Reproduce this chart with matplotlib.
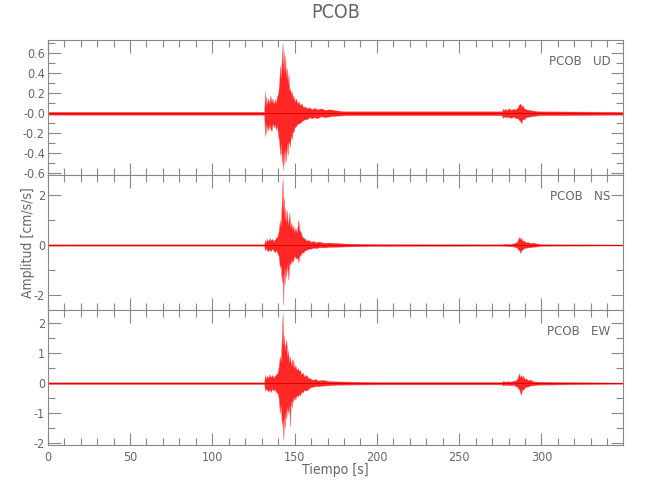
import matplotlib
matplotlib.use("Agg")
import matplotlib.pyplot as plt
from matplotlib.ticker import MultipleLocator, FixedLocator

plt.rcParams['axes.unicode_minus'] = False
plt.rcParams['font.family'] = ['DejaVu Sans']
plt.rcParams['font.stretch'] = 'condensed'

station = "PCOB"
components = ["UD", "NS", "EW"]
title = "PCOB"
xlabel = "Tiempo [s]"
ylabel = "Amplitud [cm/s/s]"

# envelope knots: time [s], upper, lower
ud_t = [0, 131.5, 132, 132.4, 132.8, 133.3, 134, 134.6, 135.2, 136,
        136.6, 137.3, 138, 138.6, 139.3, 140, 140.6, 141.2, 141.7, 142.2,
        142.7, 143.0, 143.4, 143.8, 144.3, 144.8, 145.3, 145.8, 146.3, 146.8,
        147.2, 147.7, 148.3, 148.8, 149.3, 150, 150.8, 151.6, 152.4, 153.3,
        154.2, 155.2, 156.2, 157.5, 159, 160.5, 162, 164, 166, 168.5,
        171.5, 175, 180, 276, 276.4, 277, 278, 279, 280, 281.5,
        283, 284.5, 285.5, 286.5, 287.2, 287.8, 288.5, 289.5, 290.5, 292,
        294, 298, 350]
ud_hi = [.015, .015, .22, .08, .17, .10, .15, .09, .18, .11,
         .15, .09, .14, .10, .17, .20, .30, .48, .35, .55,
         .70, .45, .62, .40, .58, .36, .45, .30, .40, .23,
         .25, .20, .22, .15, .18, .12, .15, .10, .12, .08,
         .10, .06, .07, .05, .06, .04, .055, .04, .05, .035,
         .04, .03, .02, .02, .05, .03, .045, .03, .05, .035,
         .045, .04, .06, .09, .10, .07, .08, .05, .04, .035,
         .03, .02, .015]
ud_lo = [-.015, -.015, -.23, -.10, -.20, -.12, -.17, -.11, -.15, -.18,
         -.10, -.14, -.11, -.16, -.13, -.22, -.28, -.42, -.30, -.50,
         -.40, -.57, -.38, -.52, -.35, -.48, -.30, -.42, -.28, -.30,
         -.34, -.22, -.26, -.18, -.19, -.14, -.13, -.11, -.10, -.10,
         -.08, -.07, -.06, -.06, -.04, -.05, -.04, -.05, -.03, -.04,
         -.03, -.025, -.02, -.02, -.05, -.03, -.04, -.035, -.04, -.045,
         -.035, -.05, -.05, -.07, -.08, -.10, -.06, -.06, -.04, -.035,
         -.03, -.02, -.015]

ns_t = [0, 131.5, 132, 132.6, 133.2, 134, 134.8, 135.6, 136.4, 137.2,
        138, 138.8, 139.6, 140.3, 141, 141.6, 142.2, 142.7, 143.1, 143.5,
        143.9, 144.4, 144.9, 145.4, 145.8, 146.2, 146.8, 147.4, 148, 148.6,
        149.2, 149.8, 150.5, 151.2, 151.8, 152.3, 152.9, 153.6, 154.4, 155.3,
        156.2, 157.2, 158.5, 160, 161.5, 163, 165, 167.5, 171, 176,
        180, 200, 276, 278, 281, 283, 285, 286, 286.6, 287.2,
        287.8, 288.6, 289.5, 290.5, 291.5, 293, 295, 297, 300, 305,
        350]
ns_hi = [.03, .03, .20, .12, .25, .15, .28, .18, .25, .15,
         .22, .30, .35, .55, 1.0, .7, 1.8, 2.67, 1.4, 1.9,
         1.0, 1.5, .9, 1.4, .8, .9, 1.3, .7, .9, .6,
         .8, .5, .7, .5, .75, 1.0, .6, .55, .35, .3,
         .25, .18, .2, .13, .16, .11, .14, .09, .1, .08,
         .06, .04, .03, .05, .04, .07, .12, .25, .33, .22,
         .28, .15, .18, .1, .13, .08, .1, .06, .04, .03,
         .02]
ns_lo = [-.03, -.03, -.22, -.14, -.20, -.25, -.18, -.25, -.15, -.22,
         -.30, -.20, -.35, -.45, -.9, -.8, -1.5, -1.2, -2.4, -1.0,
         -1.6, -.9, -1.3, -.8, -1.0, -1.4, -.7, -.8, -.6, -.7,
         -.6, -.45, -.5, -.55, -.5, -.7, -.45, -.4, -.3, -.3,
         -.22, -.2, -.15, -.15, -.11, -.13, -.09, -.1, -.08, -.07,
         -.06, -.04, -.03, -.04, -.05, -.06, -.1, -.2, -.22, -.33,
         -.2, -.18, -.12, -.12, -.09, -.1, -.07, -.06, -.04, -.03,
         -.02]

ew_t = [0, 131.5, 132, 132.6, 133.2, 134, 134.8, 135.6, 136.4, 137.2,
        138, 138.8, 139.6, 140.3, 141, 141.6, 142.2, 142.7, 143.2, 143.6,
        144, 144.5, 145, 145.5, 146, 146.6, 147.2, 147.7, 148.3, 148.8,
        149.2, 149.8, 150.5, 151.2, 152, 152.7, 153.3, 154, 155, 156,
        157, 158.3, 159.5, 161, 162.5, 164.5, 167, 171, 176, 200,
        276, 276.6, 278, 279.5, 281, 283, 284.5, 285.5, 286.3, 287,
        287.6, 288.3, 289, 289.8, 290.6, 291.6, 293, 295, 298, 350]
ew_hi = [.03, .03, .28, .15, .25, .18, .30, .2, .28, .18,
         .25, .3, .35, .55, .9, .7, 1.5, 2.33, 1.3, 1.6,
         1.1, 1.3, 1.45, .9, 1.1, .7, .9, .6, .8, .55,
         .8, .5, .6, .45, .5, .4, .45, .3, .35, .22,
         .28, .18, .16, .11, .14, .09, .11, .07, .06, .04,
         .04, .08, .05, .07, .05, .08, .1, .18, .33, .2,
         .28, .18, .25, .12, .17, .1, .12, .06, .05, .02]
ew_lo = [-.03, -.03, -.25, -.18, -.22, -.28, -.2, -.3, -.18, -.25,
         -.2, -.3, -.33, -.5, -1.0, -.7, -1.4, -1.2, -1.9, -1.1,
         -1.5, -.9, -1.2, -.8, -1.0, -.7, -1.45, -.6, -.8, -.5,
         -.6, -.45, -.55, -.4, -.45, -.35, -.42, -.3, -.3, -.22,
         -.25, -.2, -.14, -.12, -.1, -.1, -.08, -.07, -.05, -.04,
         -.04, -.08, -.05, -.06, -.07, -.06, -.1, -.15, -.2, -.3,
         -.39, -.2, -.22, -.15, -.12, -.12, -.08, -.07, -.05, -.02]

traces = [(ud_t, ud_hi, ud_lo), (ns_t, ns_hi, ns_lo), (ew_t, ew_hi, ew_lo)]
ylims = [(-0.617, 0.733), (-2.6, 2.8), (-2.06, 2.44)]
ymajor = [[-0.6, -0.4, -0.2, 0.0, 0.2, 0.4, 0.6], [-2, 0, 2], [-2, -1, 0, 1, 2]]
ylabels_list = [['-0.6', '-0.4', '-0.2', '-0.0', '0.2', '0.4', '0.6'], ['-2', '0', '2'], ['-2', '-1', '0', '1', '2']]
yminor = [0.1, 1.0, 0.5]
xmajor = [0, 50, 100, 150, 200, 250, 300]

W, H = 650, 500
fig = plt.figure(figsize=(6.5, 5), dpi=100)
fig.subplots_adjust(left=47.7 / W, right=623.3 / W, top=1 - 40 / H, bottom=1 - 445 / H, hspace=0)
axes = fig.subplots(3, 1, sharex=True)

gray = '#888888'
tcol = '#666666'
for i, ax in enumerate(axes):
    t, hi, lo = traces[i]
    ax.fill_between(t, lo, hi, color='#ff0000', lw=0.3, edgecolor='#ff6060', alpha=0.85)
    ax.plot([0, 350], [0, 0], color='#dd0000', lw=0.7)
    ax.set_xlim(0, 349.7)
    ax.set_ylim(*ylims[i])
    ax.yaxis.set_major_locator(FixedLocator(ymajor[i]))
    ax.set_yticklabels(ylabels_list[i])
    ax.yaxis.set_minor_locator(MultipleLocator(yminor[i]))
    ax.xaxis.set_major_locator(FixedLocator(xmajor))
    ax.xaxis.set_minor_locator(MultipleLocator(10))
    ax.tick_params(which='both', direction='in', top=True, right=True, color=gray, width=0.8,
                   labelsize=9, labelcolor=tcol, pad=2)
    ax.tick_params(which='major', length=9)
    ax.tick_params(which='minor', length=5)
    for s in ax.spines.values():
        s.set_color(gray)
        s.set_linewidth(0.8)
    ax.text(0.978, 0.84, f"{station}   {components[i]}", transform=ax.transAxes, ha='right', va='center',
            fontsize=9.5, color=tcol)
    if i < 2:
        ax.tick_params(labelbottom=False)

axes[2].set_xticklabels([str(v) for v in xmajor])
axes[2].tick_params(axis='x', pad=4)
fig.text(335.5 / W, 1 - 13 / H, title, ha='center', va='center', fontsize=14, color=tcol)
fig.text(335.5 / W, 1 - 470 / H, xlabel, ha='center', va='center', fontsize=10, color=tcol)
fig.text(28 / W, 1 - 243 / H, ylabel, ha='center', va='center', rotation=90, fontsize=10, color=tcol)

fig.savefig('out.png', dpi=100)
